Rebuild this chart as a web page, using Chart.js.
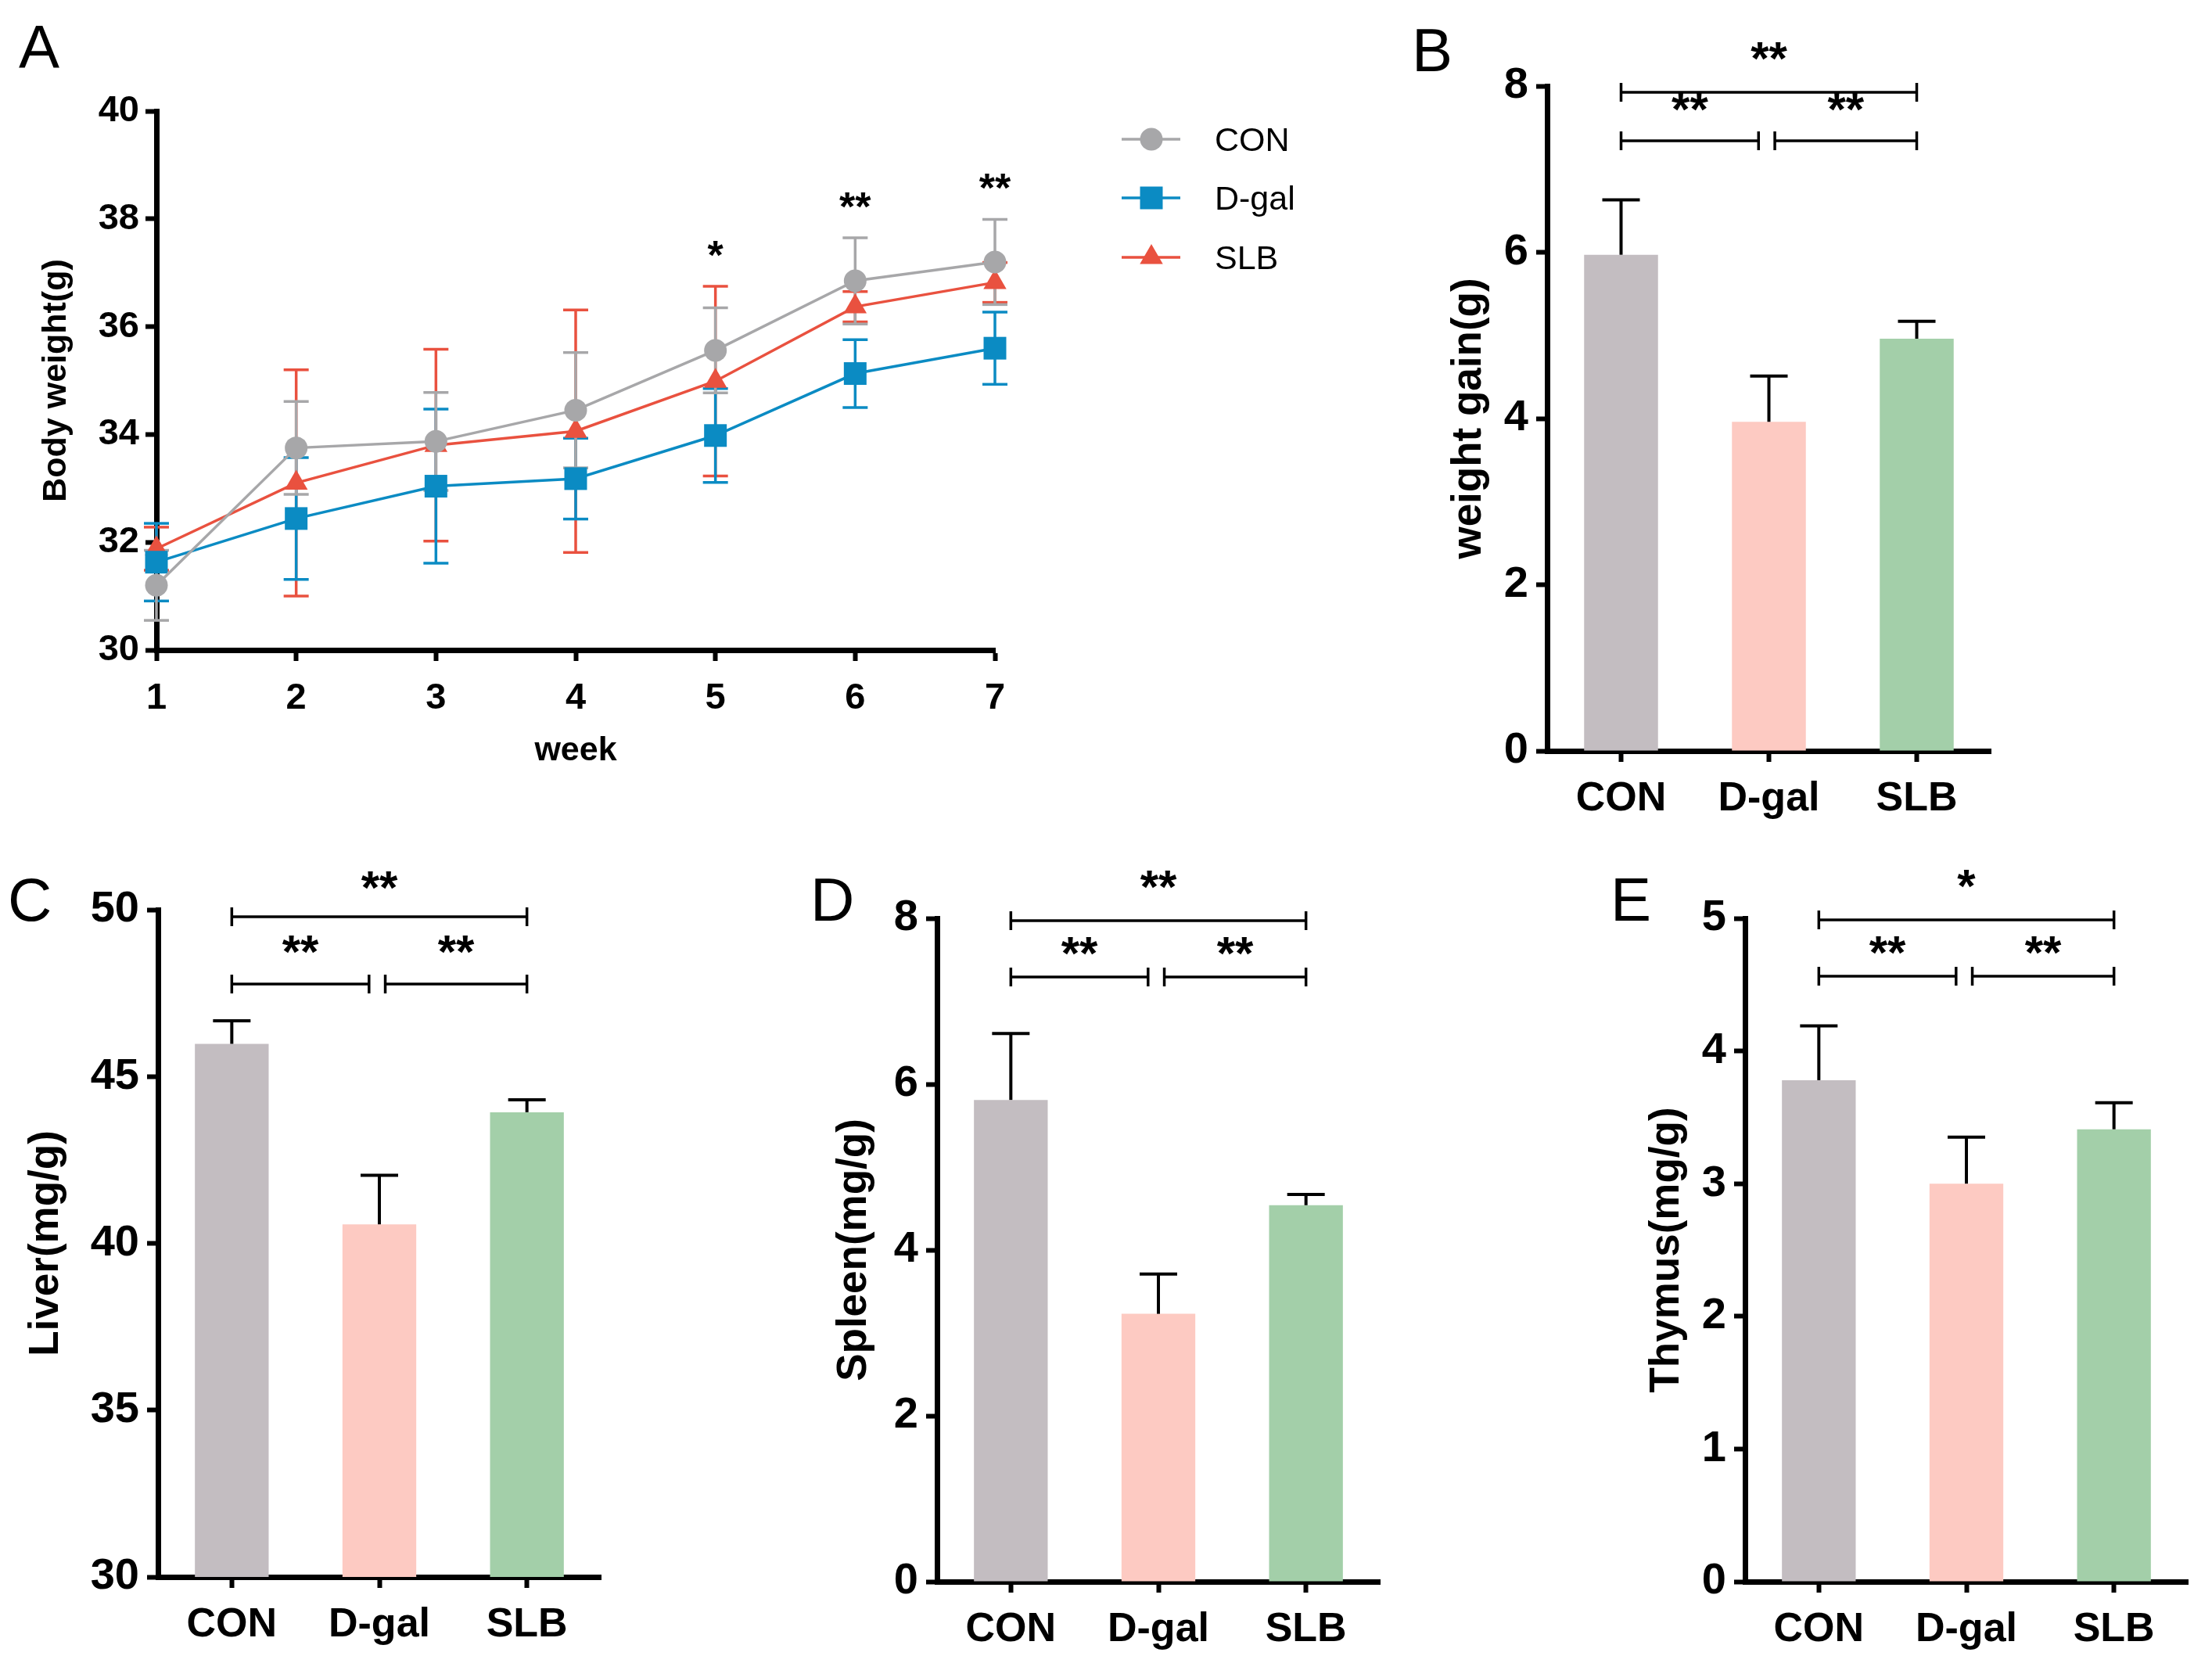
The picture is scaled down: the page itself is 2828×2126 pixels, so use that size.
<!DOCTYPE html>
<html><head><meta charset="utf-8">
<script src="https://cdn.jsdelivr.net/npm/chart.js@4.4.0/dist/chart.umd.min.js"></script>
<style>
html,body{margin:0;padding:0;background:#fff;}
#page{position:relative;width:2828px;height:2126px;overflow:hidden;background:#fff;}
canvas{position:absolute;}
.lbl{position:absolute;font-family:'Liberation Sans',Arial,Helvetica,sans-serif;font-size:78px;line-height:1;color:#000;}
</style></head><body>
<div id="page">
<canvas id="cA" width="1750" height="1060" style="left:0px;top:0px;width:1750px;height:1060px"></canvas>
<canvas id="cB" width="1078" height="1060" style="left:1750px;top:0px;width:1078px;height:1060px"></canvas>
<canvas id="cC" width="1000" height="1066" style="left:0px;top:1060px;width:1000px;height:1066px"></canvas>
<canvas id="cD" width="980" height="1066" style="left:1000px;top:1060px;width:980px;height:1066px"></canvas>
<canvas id="cE" width="868" height="1066" style="left:1960px;top:1060px;width:868px;height:1066px"></canvas>
<div class="lbl" style="left:24px;top:21px">A</div>
<div class="lbl" style="left:1805px;top:25px">B</div>
<div class="lbl" style="left:10px;top:1111px">C</div>
<div class="lbl" style="left:1036px;top:1111px">D</div>
<div class="lbl" style="left:2059px;top:1111px">E</div>
</div>
<script>
// ---------------- data ----------------
const weeks = [1, 2, 3, 4, 5, 6, 7];
const seriesNames = ['CON', 'D-gal', 'SLB'];
const conWeight  = [31.20, 33.75, 33.87, 34.45, 35.56, 36.85, 37.20];
const conErr     = [0.65, 0.86, 0.91, 1.07, 0.79, 0.80, 0.79];
const dgalWeight = [31.63, 32.44, 33.04, 33.18, 33.98, 35.13, 35.60];
const dgalErr    = [0.72, 1.13, 1.43, 0.75, 0.87, 0.63, 0.67];
const slbWeight  = [31.88, 33.10, 33.80, 34.06, 34.99, 36.37, 36.82];
const slbErr     = [0.40, 2.10, 1.78, 2.25, 1.76, 0.28, 0.37];
const weekSig    = ['', '', '', '', '*', '**', '**'];
const weightTicks = [30, 32, 34, 36, 38, 40];

const groups = ['CON', 'D-gal', 'SLB'];
const gainMean = [5.97, 3.96, 4.96];
const gainErr  = [0.66, 0.55, 0.21];
const gainTicks = [0, 2, 4, 6, 8];
const gainSig = ['**', '**', '**'];      // CON vs SLB, CON vs D-gal, D-gal vs SLB

const liverMean = [45.98, 40.57, 43.93];
const liverErr  = [0.69, 1.47, 0.37];
const liverTicks = [30, 35, 40, 45, 50];
const liverSig = ['**', '**', '**'];

const spleenMean = [5.81, 3.23, 4.54];
const spleenErr  = [0.80, 0.48, 0.13];
const spleenTicks = [0, 2, 4, 6, 8];
const spleenSig = ['**', '**', '**'];

const thymusMean = [3.78, 3.00, 3.41];
const thymusErr  = [0.41, 0.35, 0.20];
const thymusTicks = [0, 1, 2, 3, 4, 5];
const thymusSig = ['*', '**', '**'];

// ---------------- styles ----------------
const FONT = "'Liberation Sans', Arial, Helvetica, sans-serif";
Chart.defaults.font.family = FONT;
Chart.defaults.color = '#000';
const lineColors = ['#a7a7a9', '#0b8bc3', '#e9513f'];
const pointStyles = ['circle', 'rect', 'triangle'];
const pointRadii = [14.5, 20.5, 17];
const barColors = ['#c3bdc1', '#fdcac2', '#a3cfa9'];

function seg(ctx, x1, y1, x2, y2) { ctx.beginPath(); ctx.moveTo(x1, y1); ctx.lineTo(x2, y2); ctx.stroke(); }
function drawStar(ctx, txt, x, yCenter, size) {
  ctx.font = 'bold ' + size + 'px ' + FONT;
  ctx.textAlign = 'center';
  ctx.textBaseline = 'alphabetic';
  ctx.fillStyle = '#000';
  ctx.fillText(txt, x, yCenter + 0.37 * size);
}

// ---------------- panel A ----------------
const weightMeans = [conWeight, dgalWeight, slbWeight];
const weightErrs = [conErr, dgalErr, slbErr];

const panelAPlugin = {
  id: 'panelA',
  beforeDatasetsDraw(chart) {
    const ctx = chart.ctx, y = chart.scales.y;
    ctx.save();
    ctx.lineWidth = 3.5;
    for (let d = 2; d >= 0; d--) {
      const meta = chart.getDatasetMeta(d);
      ctx.strokeStyle = lineColors[d];
      weightMeans[d].forEach((v, i) => {
        const px = meta.data[i].x;
        const yt = y.getPixelForValue(v + weightErrs[d][i]);
        const yb = y.getPixelForValue(v - weightErrs[d][i]);
        seg(ctx, px, yt, px, yb);
        seg(ctx, px - 16, yt, px + 16, yt);
        seg(ctx, px - 16, yb, px + 16, yb);
      });
    }
    ctx.restore();
  },
  afterDraw(chart) {
    const ctx = chart.ctx, x = chart.scales.x, y = chart.scales.y;
    ctx.save();
    // significance stars
    weeks.forEach((w, i) => {
      if (!weekSig[i]) return;
      let top = -Infinity;
      for (let d = 0; d < 3; d++) top = Math.max(top, weightMeans[d][i] + weightErrs[d][i]);
      drawStar(ctx, weekSig[i], x.getPixelForValue(w), y.getPixelForValue(top + 0.6), 52);
    });
    // legend
    const rows = [178, 253, 329];
    seriesNames.forEach((name, d) => {
      const ry = rows[d];
      ctx.strokeStyle = lineColors[d];
      ctx.fillStyle = lineColors[d];
      ctx.lineWidth = 3.5;
      seg(ctx, 1434, ry, 1509, ry);
      Chart.helpers.drawPoint(ctx, { pointStyle: pointStyles[d], radius: pointRadii[d], rotation: 0, borderWidth: 0 }, 1472, ry);
      ctx.fillStyle = '#000';
      ctx.font = '43px ' + FONT;
      ctx.textAlign = 'left';
      ctx.textBaseline = 'alphabetic';
      ctx.fillText(name, 1553, ry + 0.358 * 43);
    });
    ctx.restore();
  }
};

new Chart(document.getElementById('cA'), {
  type: 'line',
  data: {
    datasets: seriesNames.map((name, d) => ({
      label: name,
      data: weeks.map((w, i) => ({ x: w, y: weightMeans[d][i] })),
      borderColor: lineColors[d],
      backgroundColor: lineColors[d],
      pointBackgroundColor: lineColors[d],
      pointBorderColor: lineColors[d],
      pointBorderWidth: 0,
      pointStyle: pointStyles[d],
      pointRadius: pointRadii[d],
      borderWidth: 3.5,
      tension: 0,
      clip: false
    }))
  },
  options: {
    responsive: false, animation: false, devicePixelRatio: 1,
    layout: { padding: { left: 0, top: 142, right: 478, bottom: 59 } },
    plugins: { legend: { display: false }, tooltip: { enabled: false } },
    scales: {
      x: {
        type: 'linear', min: weeks[0], max: weeks[weeks.length - 1],
        afterBuildTicks: s => { s.ticks = weeks.map(v => ({ value: v })); },
        afterFit: s => { s.height = 170; },
        border: { display: true, color: '#000', width: 7 },
        grid: { display: true, drawOnChartArea: false, drawTicks: true, tickLength: 14, tickWidth: 6, tickColor: '#000' },
        ticks: { font: { size: 47, weight: 'bold' }, color: '#000', padding: 20, maxRotation: 0 },
        title: { display: true, text: 'week', font: { size: 43, weight: 'bold' }, color: '#000', padding: { top: 0, bottom: 15 } }
      },
      y: {
        min: weightTicks[0], max: weightTicks[weightTicks.length - 1],
        afterBuildTicks: s => { s.ticks = weightTicks.map(v => ({ value: v })); },
        afterFit: s => { s.width = 200; },
        border: { display: true, color: '#000', width: 7 },
        grid: { display: true, drawOnChartArea: false, drawTicks: true, tickLength: 14, tickWidth: 6, tickColor: '#000' },
        ticks: { font: { size: 47, weight: 'bold' }, color: '#000', padding: 8 },
        title: { display: true, text: 'Body weight(g)', font: { size: 43, weight: 'bold' }, color: '#000', padding: { top: 46, bottom: 0 } }
      }
    }
  },
  plugins: [panelAPlugin]
});

// ---------------- bar panels ----------------
function makeBar(id, cfg) {
  const plugin = {
    id: 'bars_' + id,
    afterDraw(chart) {
      const ctx = chart.ctx, x = chart.scales.x, y = chart.scales.y, area = chart.chartArea;
      const meta = chart.getDatasetMeta(0);
      ctx.save();
      ctx.strokeStyle = '#000';
      ctx.lineWidth = 4;
      cfg.mean.forEach((v, i) => {
        const px = meta.data[i].x;
        const yb = y.getPixelForValue(v);
        const yt = y.getPixelForValue(v + cfg.err[i]);
        seg(ctx, px, yb, px, yt);
        seg(ctx, px - 24, yt, px + 24, yt);
      });
      // significance brackets
      const c0 = x.getPixelForValue(0), c1 = x.getPixelForValue(1), c2 = x.getPixelForValue(2);
      const sp = c1 - c0;
      const yTop = area.top + cfg.lv[0], yLow = area.top + cfg.lv[1];
      ctx.lineWidth = 3.5;
      const br = (a, b, yy, txt, gap) => {
        seg(ctx, a, yy, b, yy);
        seg(ctx, a, yy - 12, a, yy + 12);
        seg(ctx, b, yy - 12, b, yy + 12);
        drawStar(ctx, txt, (a + b) / 2, yy - gap, 60);
      };
      br(c0, c2, yTop, cfg.sig[0], cfg.lv[2]);
      br(c0, c1 - 0.07 * sp, yLow, cfg.sig[1], cfg.lv[3]);
      br(c1 + 0.04 * sp, c2, yLow, cfg.sig[2], cfg.lv[3]);
      ctx.restore();
    }
  };
  new Chart(document.getElementById(id), {
    type: 'bar',
    data: {
      labels: groups,
      datasets: [{
        data: cfg.mean,
        backgroundColor: barColors,
        borderWidth: 0,
        barPercentage: 0.5,
        categoryPercentage: 1.0
      }]
    },
    options: {
      responsive: false, animation: false, devicePixelRatio: 1,
      layout: { padding: { left: 0, top: cfg.pad[0], right: cfg.pad[1], bottom: cfg.pad[2] } },
      plugins: { legend: { display: false }, tooltip: { enabled: false } },
      scales: {
        x: {
          type: 'category', offset: true, z: 1,
          afterFit: s => { s.height = 100; },
          border: { display: true, color: '#000', width: 7 },
          grid: { display: true, offset: false, drawOnChartArea: false, drawTicks: true, tickLength: 14, tickWidth: 6, tickColor: '#000' },
          ticks: { font: { size: 52, weight: 'bold' }, color: '#000', padding: 16, maxRotation: 0, autoSkip: false }
        },
        y: {
          min: cfg.ticks[0], max: cfg.ticks[cfg.ticks.length - 1], beginAtZero: false,
          afterBuildTicks: s => { s.ticks = cfg.ticks.map(v => ({ value: v })); },
          afterFit: s => { s.width = cfg.yw; },
          border: { display: true, color: '#000', width: 7 },
          grid: { display: true, drawOnChartArea: false, drawTicks: true, tickLength: 14, tickWidth: 6, tickColor: '#000' },
          ticks: { font: { size: 56, weight: 'bold' }, color: '#000', padding: 10 },
          title: { display: true, text: cfg.title, font: { size: 53, weight: 'bold' }, color: '#000', padding: { top: cfg.tp, bottom: 0 } }
        }
      }
    },
    plugins: [plugin]
  });
}

makeBar('cB', { mean: gainMean, err: gainErr, ticks: gainTicks, sig: gainSig, title: 'weight gain(g)',
  pad: [110, 283, 0], yw: 228, tp: 97, lv: [8, 70, 45, 42] });
makeBar('cC', { mean: liverMean, err: liverErr, ticks: liverTicks, sig: liverSig, title: 'Liver(mg/g)',
  pad: [103, 232, 10], yw: 202, tp: 28, lv: [9, 95, 39, 43] });
makeBar('cD', { mean: spleenMean, err: spleenErr, ticks: spleenTicks, sig: spleenSig, title: 'Spleen(mg/g)',
  pad: [114, 216, 4], yw: 198, tp: 61, lv: [3, 75, 45, 32] });
makeBar('cE', { mean: thymusMean, err: thymusErr, ticks: thymusTicks, sig: thymusSig, title: 'Thymus(mg/g)',
  pad: [114, 31, 4], yw: 271, tp: 140, lv: [2, 74, 45, 32] });
</script>
</body></html>
